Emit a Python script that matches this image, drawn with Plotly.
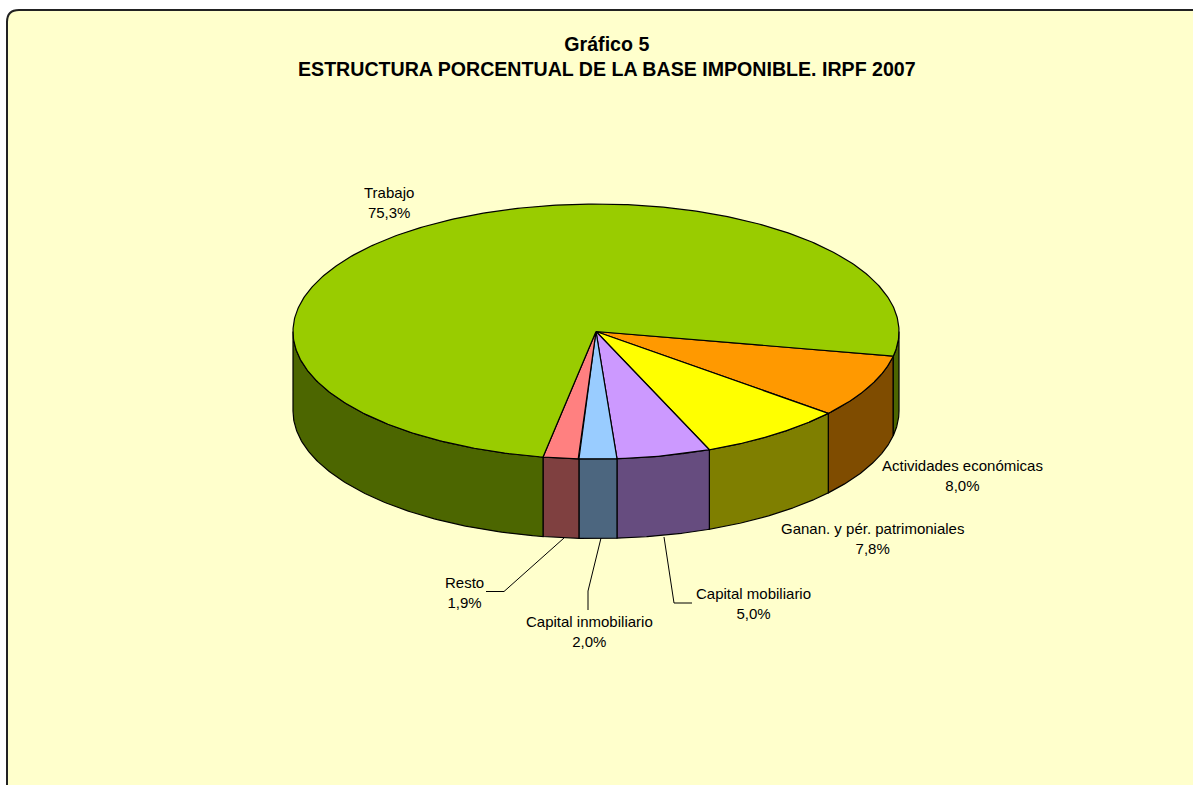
import numpy as np
import plotly.graph_objects as go

categories = ["Actividades económicas", "Ganan. y pér. patrimoniales", "Capital mobiliario",
              "Capital inmobiliario", "Resto", "Trabajo"]
values = [8.0, 7.8, 5.0, 2.0, 1.9, 75.3]
value_labels = ["8,0%", "7,8%", "5,0%", "2,0%", "1,9%", "75,3%"]
colors = ["#FF9900", "#FFFF00", "#CC99FF", "#99CCFF", "#FF8080", "#99CC00"]

title_lines = ["Gráfico 5", "ESTRUCTURA PORCENTUAL DE LA BASE IMPONIBLE. IRPF 2007"]

W, H = 1193, 785
CX, CY, RX, RY, DEPTH = 596, 331.5, 303, 127.5, 79.5
START = 101.15
label_pos = [(962, 475), (872, 538), (753, 603), (589, 631), (464, 592), (389, 202)]
leaders = [None, None,
           [(664, 537), (674, 603), (692, 603)],
           [(601, 538), (588, 591), (588, 610)],
           [(564, 538), (504, 591.5), (486, 591.5)],
           None]


def px(theta, dy=0.0):
    t = np.radians(theta)
    return CX + RX * np.sin(t), CY - RY * np.cos(t) + dy


def halve(c):
    return "#" + "".join(f"{int(c[i:i+2], 16) // 2:02X}" for i in (1, 3, 5))


fig = go.Figure()
edges = np.cumsum([0] + values) / sum(values) * 360 + START

# side walls first
for i in range(len(values)):
    a, b = edges[i], edges[i + 1]
    walls = []
    # visible front part: theta in [90, 270] (mod 360)
    for k in (0, 360):
        lo, hi = max(a, 90 + k), min(b, 270 + k)
        if hi > lo:
            walls.append((lo, hi))
    for lo, hi in walls:
        th = np.linspace(lo, hi, 120)
        x0, y0 = px(th)
        x1, y1 = px(th[::-1], DEPTH)
        fig.add_trace(go.Scatter(x=np.r_[x0, x1, x0[0]], y=np.r_[y0, y1, y0[0]], mode="lines",
                                 fill="toself", fillcolor=halve(colors[i]),
                                 line=dict(color="#000000", width=1.2), hoverinfo="skip", showlegend=False))

# top faces
for i in range(len(values)):
    th = np.linspace(edges[i], edges[i + 1], 400)
    x, y = px(th)
    fig.add_trace(go.Scatter(x=np.r_[CX, x, CX], y=np.r_[CY, y, CY], mode="lines",
                             fill="toself", fillcolor=colors[i],
                             line=dict(color="#000000", width=1.2), hoverinfo="skip", showlegend=False))

# leader lines
for pts in leaders:
    if pts:
        fig.add_trace(go.Scatter(x=[p[0] for p in pts], y=[p[1] for p in pts], mode="lines",
                                 line=dict(color="#000000", width=1), hoverinfo="skip", showlegend=False))

ann = [dict(x=607, y=56, xref="x", yref="y", showarrow=False,
            text="<b>" + "</b><br><b>".join(title_lines) + "</b>",
            font=dict(family="Liberation Sans", size=19.6, color="#000000"))]
for c, v, (lx, ly) in zip(categories, value_labels, label_pos):
    ann.append(dict(x=lx, y=ly, xref="x", yref="y", showarrow=False, text=f"{c}<br>{v}",
                    font=dict(family="Liberation Sans", size=15, color="#000000")))

frame = "M 7 790 L 7 22 Q 7 10 19 10 L 1210 10 L 1210 790 Z"
fig.update_layout(
    width=W, height=H, autosize=False, margin=dict(l=0, r=0, t=0, b=0),
    paper_bgcolor="#FFFFFF", plot_bgcolor="rgba(0,0,0,0)", showlegend=False,
    xaxis=dict(range=[0, W], visible=False, fixedrange=True),
    yaxis=dict(range=[H, 0], visible=False, fixedrange=True),
    shapes=[dict(type="path", path=frame, xref="x", yref="y", layer="below",
                 fillcolor="#FFFFCC", line=dict(color="#222222", width=2))],
    annotations=ann,
)
fig.write_html("out.html", config=dict(displayModeBar=False),
               post_script="document.body.style.margin='0';document.body.style.overflow='hidden';")
